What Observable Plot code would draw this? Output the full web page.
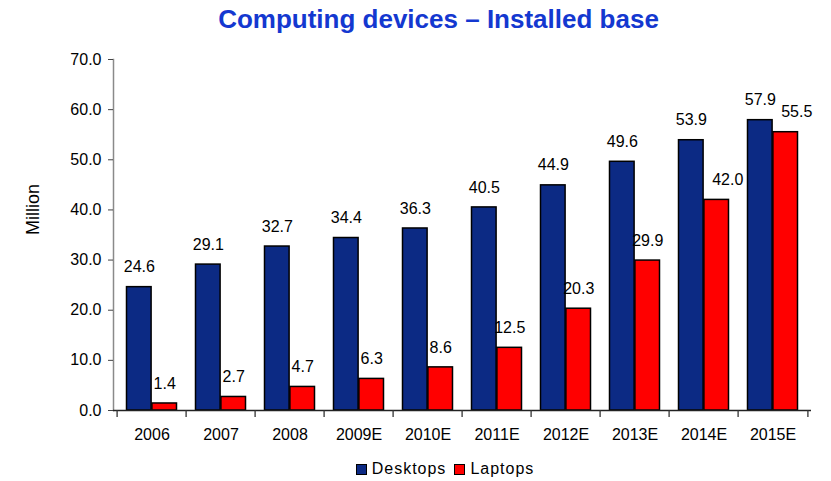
<!DOCTYPE html>
<html>
<head>
<meta charset="utf-8">
<script src="https://cdn.jsdelivr.net/npm/d3@7"></script>
<script src="https://cdn.jsdelivr.net/npm/@observablehq/plot@0.6"></script>
<style>
  body { margin: 0; background: #fff; font-family: Arial, "Liberation Sans", sans-serif; }
  #wrap { position: relative; width: 831px; height: 481px; overflow: hidden; }
  #chart { position: absolute; left: 0; top: 0; }
  #title { position: absolute; left: 0; top: 6px; width: 877px; text-align: center;
           font: bold 26px/26px Arial, "Liberation Sans", sans-serif; color: #1438d0; }
  #legend { position: absolute; left: 0; top: 461px; width: 890px; text-align: center;
            font: 16px/16px Arial, "Liberation Sans", sans-serif; color: #000; letter-spacing: 1px; }
  .sw { display: inline-block; width: 9px; height: 9px; border: 1px solid #000; margin-right: 5px; vertical-align: -1px; }
  .item { margin: 0 4px; }
</style>
</head>
<body>
<div id="wrap">
  <div id="chart"></div>
  <div id="title">Computing devices – Installed base</div>
  <div id="legend"></div>
</div>
<script>
const years = ["2006","2007","2008","2009E","2010E","2011E","2012E","2013E","2014E","2015E"];
const desktops = [24.6, 29.1, 32.7, 34.4, 36.3, 40.5, 44.9, 49.6, 53.9, 57.9];
const laptops = [1.4, 2.7, 4.7, 6.3, 8.6, 12.5, 20.3, 29.9, 42.0, 55.5];
const seriesNames = ["Desktops", "Laptops"];
const seriesColors = ["#0c2a84", "#ff0000"];
const yTicks = [0, 10, 20, 30, 40, 50, 60, 70];
const yLabel = "Million";

const rows = years.map((y, i) => ({year: y, desktops: desktops[i], laptops: laptops[i]}));
const fmt = d3.format(".1f");

const W = 831, H = 481, mL = 113, mR = 20, mT = 59, mB = 71;
const band = (W - mL - mR) / years.length;
const outer = 9.5;
const barW = (band - 2 * outer) / 2;
const inner = band - outer - barW;
const half = band / 2;
const off = half - outer - barW / 2;
// laptop labels that would crowd the neighbouring desktop label are nudged right
const crowded = d => d.desktops - d.laptops < 15;

const chart = Plot.plot({
  width: W, height: H,
  marginLeft: mL, marginRight: mR, marginTop: mT, marginBottom: mB,
  style: {fontFamily: "Arial, 'Liberation Sans', sans-serif", fontSize: "16px", color: "#000", background: "transparent"},
  x: {domain: years, padding: 0, label: null},
  y: {domain: [0, 70], label: null},
  marks: [
    Plot.barY(rows, {x: "year", y: "desktops", fill: seriesColors[0], stroke: "#000", strokeWidth: 1.5, insetLeft: outer, insetRight: inner}),
    Plot.barY(rows, {x: "year", y: "laptops", fill: seriesColors[1], stroke: "#000", strokeWidth: 1.5, insetLeft: inner, insetRight: outer}),
    Plot.text(rows, {x: "year", y: "desktops", text: d => fmt(d.desktops), dx: -off, dy: -20, fontSize: 16, fill: "#000"}),
    Plot.text(rows.filter(d => !crowded(d)), {x: "year", y: "laptops", text: d => fmt(d.laptops), dx: off, dy: -20, fontSize: 16, fill: "#000"}),
    Plot.text(rows.filter(crowded), {x: "year", y: "laptops", text: d => fmt(d.laptops), dx: off + 11, dy: -20, fontSize: 16, fill: "#000"}),
    Plot.frame({anchor: "left", stroke: "#8a8a8a", strokeWidth: 1.5}),
    Plot.ruleY([0], {stroke: "#222", strokeWidth: 1.3}),
    Plot.ruleX(years, {x: d => d, y1: 0, y2: 0, insetTop: 7, dx: -half, stroke: "#333", strokeWidth: 1.3}),
    Plot.ruleX(years.slice(-1), {x: d => d, y1: 0, y2: 0, insetTop: 7, dx: half, stroke: "#333", strokeWidth: 1.3}),
    Plot.axisX({tickSize: 0, tickPadding: 18, fontSize: 16, label: null}),
    Plot.axisY({ticks: yTicks, tickFormat: fmt, tickSize: 5, tickPadding: 7, fontSize: 16, stroke: "#444", label: null}),
    Plot.text([yLabel], {text: d => d, frameAnchor: "left", dx: -80, rotate: -90, fontSize: 18, fill: "#000"})
  ]
});
document.getElementById("chart").appendChild(chart);

const legend = document.getElementById("legend");
legend.innerHTML = seriesNames.map((n, i) =>
  `<span class="item"><span class="sw" style="background:${seriesColors[i]}"></span>${n}</span>`).join("");
</script>
</body>
</html>
